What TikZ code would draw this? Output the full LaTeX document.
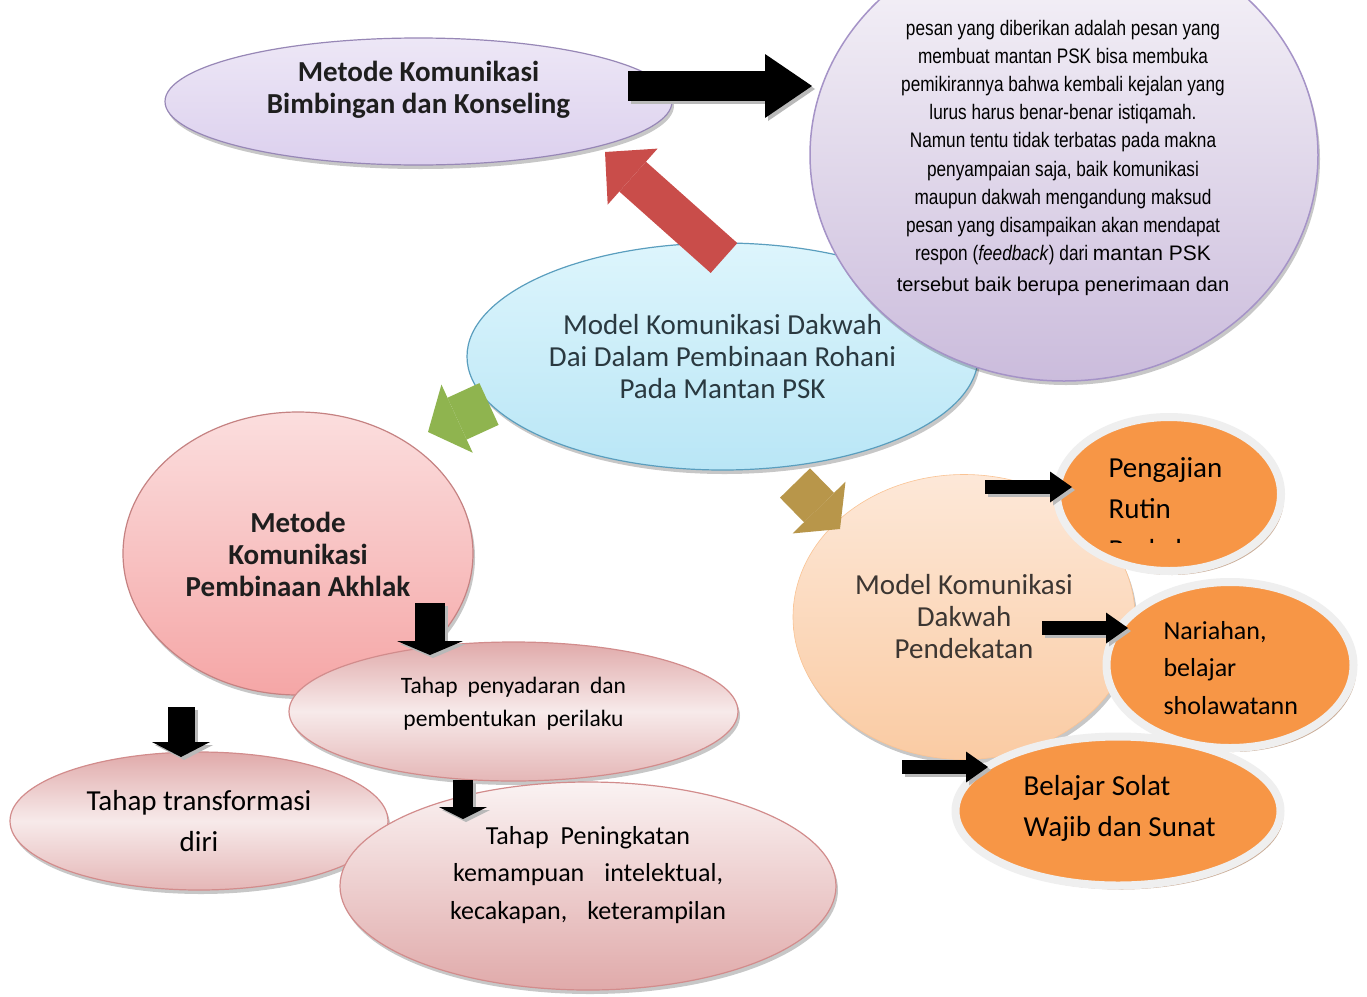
\documentclass[tikz,border=0pt]{standalone}
\usepackage{fontspec}
\setmainfont{Carlito}
\newfontfamily\narrowsans[FakeStretch=0.82]{Liberation Sans}
\newfontfamily\arialsans{Liberation Sans}
\usetikzlibrary{shapes.geometric,arrows.meta,shadows}
\definecolor{lavtop}{HTML}{EDE7F6}
\definecolor{lavbot}{HTML}{DCD0EE}
\definecolor{lavline}{HTML}{9787B6}
\definecolor{bigtop}{HTML}{F8F6FA}
\definecolor{bigbot}{HTML}{CBBCDC}
\definecolor{bigline}{HTML}{A593C7}
\definecolor{bluetop}{HTML}{DDF5FC}
\definecolor{bluebot}{HTML}{B9E6F6}
\definecolor{blueline}{HTML}{5A9EBE}
\definecolor{redarr}{HTML}{C94D4A}
\definecolor{greenarr}{HTML}{8FB44F}
\definecolor{brownarr}{HTML}{B8964A}
\definecolor{pinktop}{HTML}{FBDEDE}
\definecolor{pinkbot}{HTML}{F5A6A6}
\definecolor{pinkline}{HTML}{C58282}
\definecolor{rosedark}{HTML}{E0AAAA}
\definecolor{roselight}{HTML}{F7EAEA}
\definecolor{roseline}{HTML}{D28C8C}
\definecolor{peachtop}{HTML}{FDE8D8}
\definecolor{peachbot}{HTML}{FACBA3}
\definecolor{orangefill}{HTML}{F79646}
\definecolor{ringcol}{HTML}{EFEFEF}
\definecolor{orshadow}{HTML}{B58C6E}
\definecolor{txtdark}{HTML}{1E1E1E}
\definecolor{txtblue}{HTML}{2A3940}
\definecolor{txtpeach}{HTML}{3C3632}
\begin{document}
\begin{tikzpicture}[x=1pt,y=-1pt,
  blob/.style={ellipse, inner sep=0pt, outer sep=0pt},
  softshadow/.style={drop shadow={shadow xshift=2pt, shadow yshift=-4pt, opacity=0.22, fill=black}},
  orshade/.style={drop shadow={shadow xshift=3pt, shadow yshift=-4pt, opacity=0.7, fill=orshadow}},
  orblob/.style={blob, draw=ringcol, line width=8pt, fill=orangefill, orshade},
  roseblob/.style={blob, draw=roseline, line width=1.2pt, top color=rosedark, bottom color=rosedark!85!white, middle color=roselight, softshadow},
  bigtxt/.style={font=\fontsize{29}{32}\selectfont, align=center},
  boldtxt/.style={font=\bfseries\fontsize{29}{32}\selectfont, align=center, text=txtdark},
  ortxt/.style={font=\fontsize{29}{41}\selectfont, align=left, text=black},
  bigblk/.style={line width=30pt, -{Triangle[length=47pt,width=64pt,line width=0pt]}},
  smallblk/.style={line width=14pt, -{Triangle[length=22pt,width=31pt,line width=0pt]}},
  blkshadow/.style={gray!55, transform canvas={shift={(3pt,-3pt)}}}
]
\useasboundingbox (0,0) rectangle (1367,996);
\fill[white] (0,0) rectangle (1367,996);

% --- top left ellipse
\node[blob, minimum width=507, minimum height=127, top color=lavtop, bottom color=lavbot, draw=lavline, line width=1.2pt, softshadow] (bk) at (418.5,101.5) {};
\node[boldtxt] (bkt) at (418.5,90) {Metode Komunikasi\\Bimbingan dan Konseling};

% --- central blue ellipse
\node[blob, minimum width=511, minimum height=227, top color=bluetop, bottom color=bluebot, draw=blueline, line width=1.2pt, softshadow] (mk) at (722.5,356.5) {};
\node[bigtxt, text=txtblue] (mkt) at (722.5,357) {Model Komunikasi Dakwah\\Dai Dalam Pembinaan Rohani\\Pada Mantan PSK};

% red arrow
\coordinate (rdS) at (724,258);
\coordinate (rdE) at (605,152);
\draw[redarr, line width=40pt, -{Triangle[length=37pt,width=75pt,line width=0pt]}] (rdS) -- (rdE);

% --- big purple circle
\node[blob, minimum width=508, minimum height=452, top color=bigtop, bottom color=bigbot, draw=bigline, line width=1.5pt, softshadow] (pc) at (1064,155) {};
\node[font=\narrowsans\fontsize{21}{28.2}\selectfont, align=center, text=black] (pct) at (1063,158) {pesan yang diberikan adalah pesan yang\\membuat mantan PSK bisa membuka\\pemikirannya bahwa kembali kejalan yang\\lurus harus benar-benar istiqamah.\\Namun tentu tidak terbatas pada makna\\penyampaian saja, baik komunikasi\\maupun dakwah mengandung maksud\\pesan yang disampaikan akan mendapat\\respon (\textit{feedback}) dari {\arialsans\fontsize{21}{28}\selectfont mantan PSK}\\[3pt]{\arialsans\fontsize{20}{28}\selectfont tersebut baik berupa penerimaan dan}};

% black arrow to purple circle
\coordinate (bkS) at (628,86);
\coordinate (bkE) at (812,86);
\draw[bigblk, blkshadow] (bkS) -- (bkE);
\draw[bigblk, black] (bkS) -- (bkE);

% --- pink circle
\node[blob, minimum width=350, minimum height=283, top color=pinktop, bottom color=pinkbot, draw=pinkline, line width=1.2pt, softshadow] (ak) at (298,553.5) {};
\node[boldtxt] (akt) at (298,554) {Metode\\Komunikasi\\Pembinaan Akhlak};

% green arrow
\coordinate (grS) at (489,404);
\coordinate (grE) at (428,432);
\draw[greenarr, line width=46pt, -{Triangle[length=32pt,width=75pt,line width=0pt]}] (grS) -- (grE);

% --- pink stage ellipses
\node[roseblob, minimum width=449, minimum height=139] (py) at (513.5,711.5) {};
\node[font=\fontsize{23.5}{33}\selectfont, align=center, text=black] (pyt) at (513.5,704) {Tahap\hspace{10pt}penyadaran\hspace{10pt}dan\\pembentukan\hspace{10pt}perilaku};
\node[roseblob, minimum width=378, minimum height=138] (tr) at (199,821) {};
\node[font=\fontsize{29}{41}\selectfont, align=center, text=black] (trt) at (199,821) {Tahap transformasi\\diri};
\node[roseblob, minimum width=496, minimum height=208, top color=roselight!60!white, middle color=roselight, bottom color=rosedark] (pk) at (588,886) {};
\node[font=\fontsize{26}{37.5}\selectfont, align=center, text=black] (pkt) at (588,875) {Tahap\hspace{12pt}Peningkatan\\kemampuan\hspace{20pt}intelektual,\\kecakapan,\hspace{20pt}keterampilan};

% down arrows
\coordinate (d1S) at (430,603);
\coordinate (d1E) at (430,655);
\draw[blkshadow, line width=30pt, -{Triangle[length=14pt,width=66pt,line width=0pt]}] (d1S) -- (d1E);
\draw[black, line width=30pt, -{Triangle[length=14pt,width=66pt,line width=0pt]}] (d1S) -- (d1E);
\coordinate (d2S) at (181,707);
\coordinate (d2E) at (181,757);
\draw[blkshadow, line width=27pt, -{Triangle[length=15pt,width=58pt,line width=0pt]}] (d2S) -- (d2E);
\draw[black, line width=27pt, -{Triangle[length=15pt,width=58pt,line width=0pt]}] (d2S) -- (d2E);
\coordinate (d3S) at (463,780);
\coordinate (d3E) at (463,819);
\draw[blkshadow, line width=20pt, -{Triangle[length=12pt,width=48pt,line width=0pt]}] (d3S) -- (d3E);
\draw[black, line width=20pt, -{Triangle[length=12pt,width=48pt,line width=0pt]}] (d3S) -- (d3E);

% --- peach circle
\node[blob, minimum width=342, minimum height=285, top color=peachtop, bottom color=peachbot, draw=peachbot!90!orange, line width=0.6pt, softshadow] (pd) at (964,617) {};
\node[bigtxt, text=txtpeach] (pdt) at (964,617) {Model Komunikasi\\Dakwah\\Pendekatan};

% brown arrow
\coordinate (brS) at (795,483);
\coordinate (brE) at (840,529);
\draw[brownarr, line width=42pt, -{Triangle[length=30pt,width=74pt,line width=0pt]}] (brS) -- (brE);

% --- orange ellipses
\node[orblob, minimum width=224, minimum height=154] (o1) at (1169,494) {};
\begin{scope}
\clip (1040,400) rectangle (1300,542);
\node[ortxt, anchor=west] (o1t) at (1105,509) {Pengajian\\Rutin\\Berkala};
\end{scope}
\node[orblob, minimum width=247, minimum height=166] (o2) at (1230,665) {};
\node[ortxt, anchor=west, font=\fontsize{26}{37.5}\selectfont] (o2t) at (1160,668) {Nariahan,\\belajar\\sholawatann};
\node[orblob, minimum width=325, minimum height=149] (o3) at (1118,811) {};
\node[ortxt, anchor=west] (o3t) at (1020,808) {Belajar Solat\\Wajib dan Sunat};

% small black arrows
\coordinate (s1S) at (985,487);
\coordinate (s1E) at (1072,487);
\draw[smallblk, blkshadow] (s1S) -- (s1E);
\draw[smallblk, black] (s1S) -- (s1E);
\coordinate (s2S) at (1042,628);
\coordinate (s2E) at (1128,628);
\draw[smallblk, blkshadow] (s2S) -- (s2E);
\draw[smallblk, black] (s2S) -- (s2E);
\coordinate (s3S) at (902,767);
\coordinate (s3E) at (988,767);
\draw[smallblk, blkshadow] (s3S) -- (s3E);
\draw[smallblk, black] (s3S) -- (s3E);
\end{tikzpicture}
\end{document}
